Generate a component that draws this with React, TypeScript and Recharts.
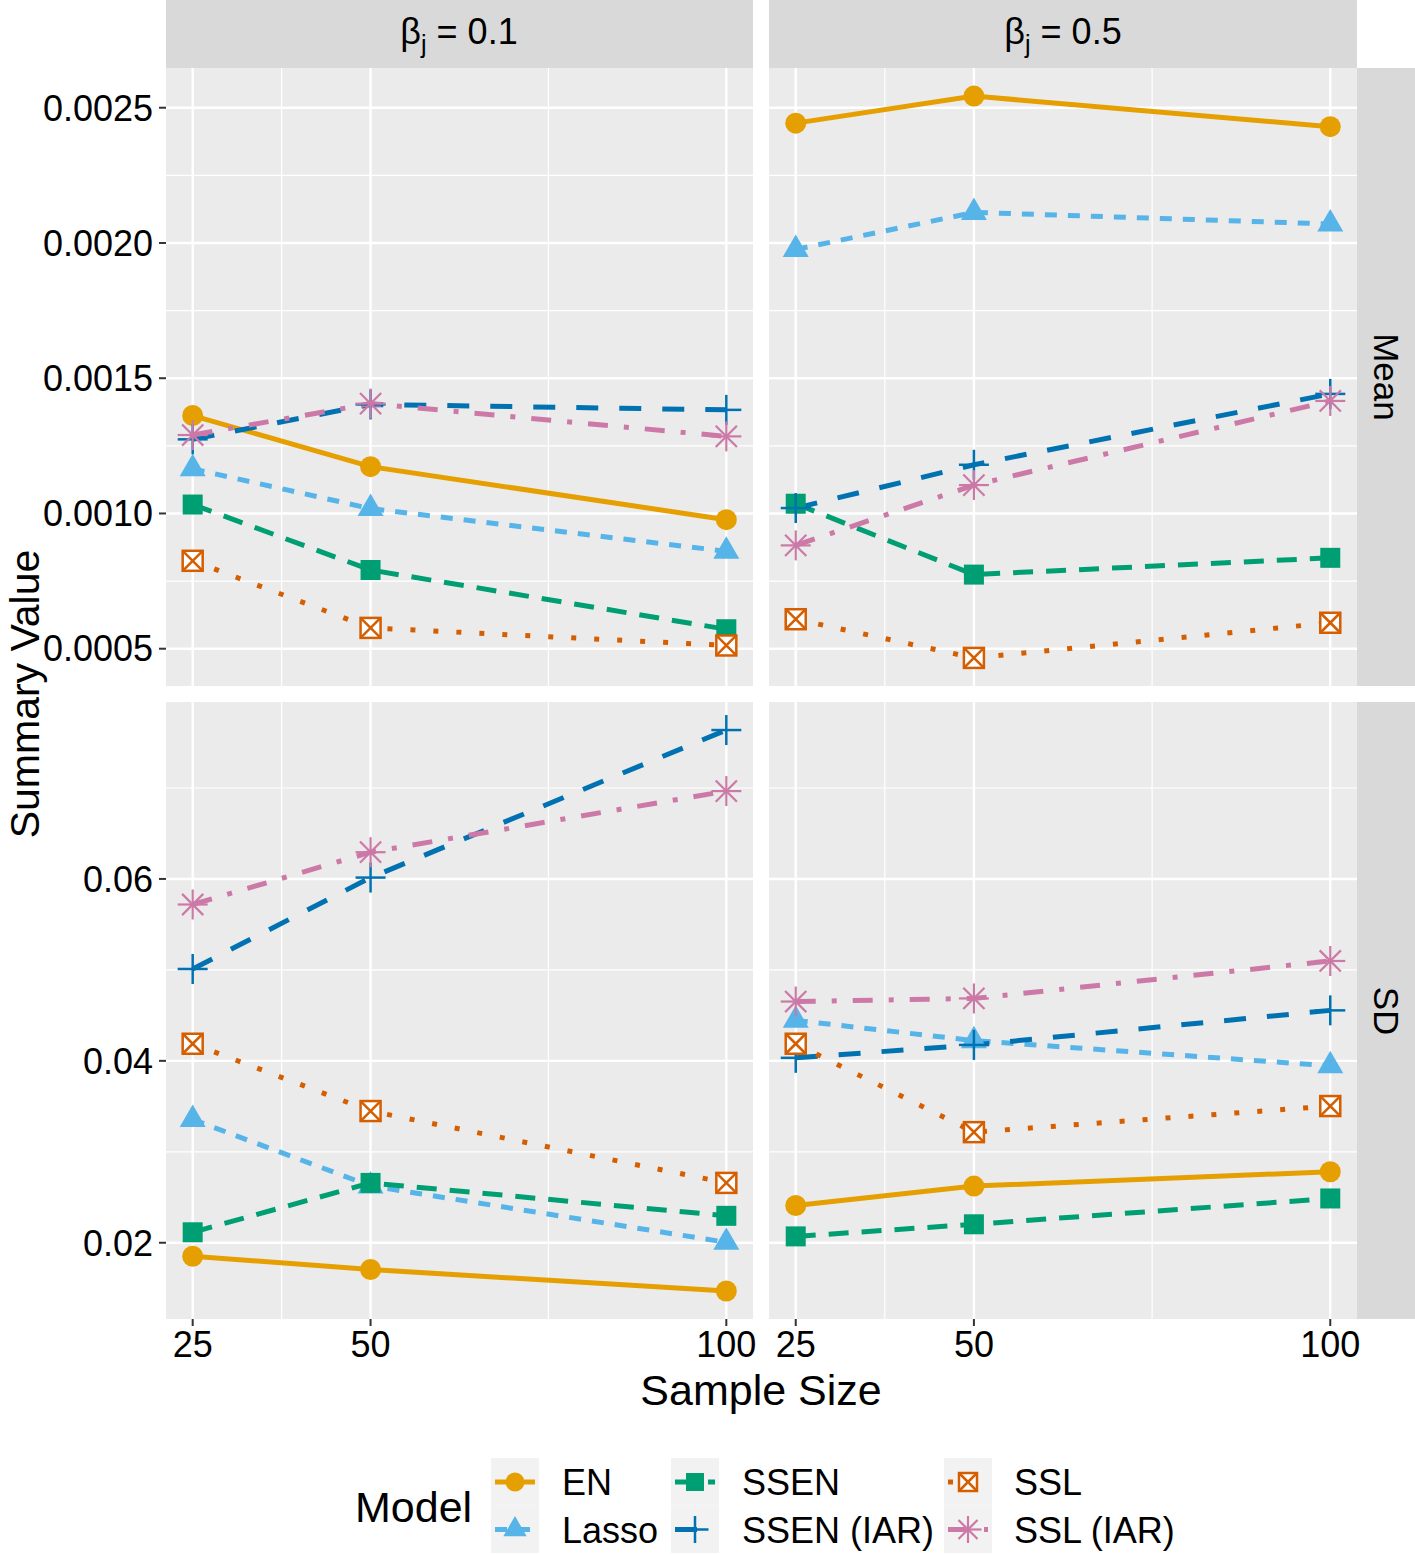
import React from 'react';
import { LineChart, Line, XAxis, YAxis, CartesianGrid, ReferenceLine } from 'recharts';

const sampleSizes = [25, 50, 100];
const xMinorTicks = [37.5, 75];

const models = ['EN', 'Lasso', 'SSEN', 'SSEN (IAR)', 'SSL', 'SSL (IAR)'];
const modelColors = ['#E69F00', '#56B4E9', '#009E73', '#0072B2', '#D55E00', '#CC79A7'];
const modelDashes = [undefined, '12 11', '20 13', '22 21', '5 18', '20 16 5 16'];
const modelShapes = ['circle', 'triangle', 'square', 'plus', 'boxcross', 'asterisk'];

// one row per model (same order as models), one value per sample size
const meanBeta01 = [
    [0.001362, 0.001173, 0.000977],
    [0.001165, 0.001018, 0.00086],
    [0.001033, 0.000791, 0.000572],
    [0.001274, 0.001403, 0.001383],
    [0.000825, 0.000577, 0.000512],
    [0.00129, 0.001406, 0.001285],
];
const meanBeta05 = [
    [0.002443, 0.002543, 0.00243],
    [0.001976, 0.002113, 0.00207],
    [0.001036, 0.000774, 0.000836],
    [0.00102, 0.00118, 0.001442],
    [0.000609, 0.000466, 0.000596],
    [0.000882, 0.001105, 0.001416],
];
const sdBeta01 = [
    [0.01852, 0.01706, 0.0147],
    [0.03355, 0.02625, 0.02005],
    [0.02115, 0.02658, 0.02296],
    [0.0501, 0.06015, 0.07637],
    [0.04188, 0.03448, 0.02658],
    [0.05719, 0.06294, 0.06966],
];
const sdBeta05 = [
    [0.0241, 0.02623, 0.02781],
    [0.04445, 0.04222, 0.03945],
    [0.0207, 0.02203, 0.02487],
    [0.04033, 0.04175, 0.04555],
    [0.04188, 0.03216, 0.03503],
    [0.04652, 0.04686, 0.05098],
];

const meanTicks = [0.0005, 0.001, 0.0015, 0.002, 0.0025];
const meanMinor = [0.00075, 0.00125, 0.00175, 0.00225];
const sdTicks = [0.02, 0.04, 0.06];
const sdMinor = [0.03, 0.05, 0.07];

const FONT = '"Liberation Sans", Arial, Helvetica, sans-serif';

// ggplot-like continuous expansion (5% each side)
const expand = (lo: number, hi: number): [number, number] => {
    const pad = (hi - lo) * 0.05;
    return [lo - pad, hi + pad];
};
const rangeOf = (sets: number[][][]) => {
    const all = sets.flat(2);
    return expand(Math.min(...all), Math.max(...all));
};
const xDomain = expand(sampleSizes[0], sampleSizes[sampleSizes.length - 1]);
const meanDomain = rangeOf([meanBeta01, meanBeta05]);
const sdDomain = rangeOf([sdBeta01, sdBeta05]);

const Marker = ({ shape, cx, cy, color, s = 1 }: any) => {
    if (cx == null || cy == null) return null;
    switch (shape) {
        case 'circle':
            return <circle cx={cx} cy={cy} r={10.5 * s} fill={color} />;
        case 'triangle': {
            const h = 13 * s;
            return (
                <polygon
                    points={`${cx},${cy - 15 * s} ${cx - h},${cy + 7.5 * s} ${cx + h},${cy + 7.5 * s}`}
                    fill={color}
                />
            );
        }
        case 'square':
            return <rect x={cx - 10 * s} y={cy - 10 * s} width={20 * s} height={20 * s} fill={color} />;
        case 'plus': {
            const a = 15 * s;
            return (
                <g stroke={color} strokeWidth={2.5}>
                    <line x1={cx - a} y1={cy} x2={cx + a} y2={cy} />
                    <line x1={cx} y1={cy - a} x2={cx} y2={cy + a} />
                </g>
            );
        }
        case 'boxcross': {
            const a = 10 * s;
            return (
                <g stroke={color} strokeWidth={2.5} fill="#fff">
                    <rect x={cx - a} y={cy - a} width={2 * a} height={2 * a} />
                    <line x1={cx - a} y1={cy - a} x2={cx + a} y2={cy + a} />
                    <line x1={cx - a} y1={cy + a} x2={cx + a} y2={cy - a} />
                </g>
            );
        }
        case 'asterisk': {
            const a = 15 * s;
            const d = a * 0.7071;
            return (
                <g stroke={color} strokeWidth={2.2}>
                    <line x1={cx - a} y1={cy} x2={cx + a} y2={cy} />
                    <line x1={cx} y1={cy - a} x2={cx} y2={cy + a} />
                    <line x1={cx - d} y1={cy - d} x2={cx + d} y2={cy + d} />
                    <line x1={cx - d} y1={cy + d} x2={cx + d} y2={cy - d} />
                </g>
            );
        }
        default:
            return null;
    }
};

const tickStyle = { fontSize: 36, fill: '#000', fontFamily: FONT };

interface PanelProps {
    values: number[][];
    domain: [number, number];
    ticks: number[];
    minor: number[];
    digits: number;
    showY: boolean;
    showX: boolean;
    width: number;
    height: number;
}

// extra room on the right so the last x tick label is not clipped
const RIGHT_PAD = 36;

const Panel: React.FC<PanelProps> = ({ values, domain, ticks, minor, digits, showY, showX, width, height }) => {
    const rows = sampleSizes.map((n, i) => {
        const row: any = { n };
        models.forEach((m, j) => {
            row[m] = values[j][i];
        });
        return row;
    });

    return (
        <LineChart
            width={width + RIGHT_PAD}
            height={height}
            data={rows}
            margin={{ top: 0, right: RIGHT_PAD, bottom: 0, left: 0 }}
        >
            <CartesianGrid fill="#EBEBEB" horizontal={false} vertical={false} stroke="none" />
            <XAxis
                type="number"
                dataKey="n"
                domain={xDomain}
                ticks={sampleSizes}
                allowDataOverflow
                hide={!showX}
                height={60}
                axisLine={false}
                tickLine={{ stroke: '#333', strokeWidth: 2 }}
                tickSize={7}
                tickMargin={5}
                tick={tickStyle}
                interval={0}
            />
            <YAxis
                type="number"
                domain={domain}
                ticks={ticks}
                allowDataOverflow
                hide={!showY}
                width={166}
                axisLine={false}
                tickLine={{ stroke: '#333', strokeWidth: 2 }}
                tickSize={7}
                tickMargin={6}
                tick={tickStyle}
                interval={0}
                tickFormatter={(v: number) => v.toFixed(digits)}
            />
            {minor.map((v) => (
                <ReferenceLine key={`ym-${v}`} y={v} stroke="#fff" strokeWidth={1.2} zIndex={-50} />
            ))}
            {xMinorTicks.map((v) => (
                <ReferenceLine key={`xm-${v}`} x={v} stroke="#fff" strokeWidth={1.2} zIndex={-50} />
            ))}
            {ticks.map((v) => (
                <ReferenceLine key={`y-${v}`} y={v} stroke="#fff" strokeWidth={2.4} zIndex={-50} />
            ))}
            {sampleSizes.map((v) => (
                <ReferenceLine key={`x-${v}`} x={v} stroke="#fff" strokeWidth={2.4} zIndex={-50} />
            ))}
            {models.map((m, j) => (
                <Line
                    key={m}
                    type="linear"
                    dataKey={m}
                    stroke={modelColors[j]}
                    strokeWidth={5}
                    strokeDasharray={modelDashes[j]}
                    strokeLinecap="butt"
                    isAnimationActive={false}
                    activeDot={false}
                    dot={(p: any) => (
                        <Marker key={`${m}-${p.index}`} shape={modelShapes[j]} cx={p.cx} cy={p.cy} color={modelColors[j]} />
                    )}
                />
            ))}
        </LineChart>
    );
};

const legendCols = [
    { keyX: 491, textX: 562, items: [0, 1] },
    { keyX: 671, textX: 742, items: [2, 3] },
    { keyX: 944, textX: 1014, items: [4, 5] },
];

const Overlay = () => (
    <svg width={1415} height={1554} style={{ position: 'absolute', left: 0, top: 0 }} fontFamily={FONT}>
        {/* column strips */}
        <rect x={166} y={0} width={587} height={68} fill="#D9D9D9" />
        <rect x={769} y={0} width={588} height={68} fill="#D9D9D9" />
        <text x={459} y={44} fontSize={36} textAnchor="middle">
            β<tspan dy={9} fontSize={25}>j</tspan>
            <tspan dy={-9}> = 0.1</tspan>
        </text>
        <text x={1063} y={44} fontSize={36} textAnchor="middle">
            β<tspan dy={9} fontSize={25}>j</tspan>
            <tspan dy={-9}> = 0.5</tspan>
        </text>
        {/* row strips */}
        <rect x={1357} y={68} width={58} height={618} fill="#D9D9D9" />
        <rect x={1357} y={702} width={58} height={617} fill="#D9D9D9" />
        <text x={0} y={0} fontSize={35} textAnchor="middle" transform="translate(1374 377) rotate(90)">
            Mean
        </text>
        <text x={0} y={0} fontSize={35} textAnchor="middle" transform="translate(1374 1011) rotate(90)">
            SD
        </text>
        {/* axis titles */}
        <text x={761} y={1405} fontSize={43} textAnchor="middle">
            Sample Size
        </text>
        <text x={0} y={0} fontSize={41} textAnchor="middle" transform="translate(39 694) rotate(-90)">
            Summary Value
        </text>
        {/* legend */}
        <text x={355} y={1522} fontSize={43}>
            Model
        </text>
        {legendCols.map((col) =>
            col.items.map((j, r) => {
                const y = 1458 + r * 47.5;
                const cy = y + 24;
                return (
                    <g key={models[j]}>
                        <rect x={col.keyX} y={y} width={48} height={47.5} fill="#F2F2F2" />
                        <line
                            x1={col.keyX + 4}
                            x2={col.keyX + 44}
                            y1={cy}
                            y2={cy}
                            stroke={modelColors[j]}
                            strokeWidth={5}
                            strokeDasharray={modelDashes[j]}
                        />
                        <Marker shape={modelShapes[j]} cx={col.keyX + 24} cy={cy} color={modelColors[j]} s={0.9} />
                        <text x={col.textX} y={cy + 13} fontSize={36}>
                            {models[j]}
                        </text>
                    </g>
                );
            })
        )}
    </svg>
);

const App = () => (
    <div
        style={{
            position: 'absolute',
            left: 0,
            top: 0,
            width: 1415,
            height: 1554,
            background: '#fff',
            fontFamily: FONT,
        }}
    >
        <Overlay />
        <div style={{ position: 'absolute', left: 0, top: 68 }}>
            <Panel values={meanBeta01} domain={meanDomain} ticks={meanTicks} minor={meanMinor} digits={4} showY showX={false} width={753} height={618} />
        </div>
        <div style={{ position: 'absolute', left: 769, top: 68 }}>
            <Panel values={meanBeta05} domain={meanDomain} ticks={meanTicks} minor={meanMinor} digits={4} showY={false} showX={false} width={588} height={618} />
        </div>
        <div style={{ position: 'absolute', left: 0, top: 702 }}>
            <Panel values={sdBeta01} domain={sdDomain} ticks={sdTicks} minor={sdMinor} digits={2} showY showX width={753} height={677} />
        </div>
        <div style={{ position: 'absolute', left: 769, top: 702 }}>
            <Panel values={sdBeta05} domain={sdDomain} ticks={sdTicks} minor={sdMinor} digits={2} showY={false} showX width={588} height={677} />
        </div>
    </div>
);

export default App;
